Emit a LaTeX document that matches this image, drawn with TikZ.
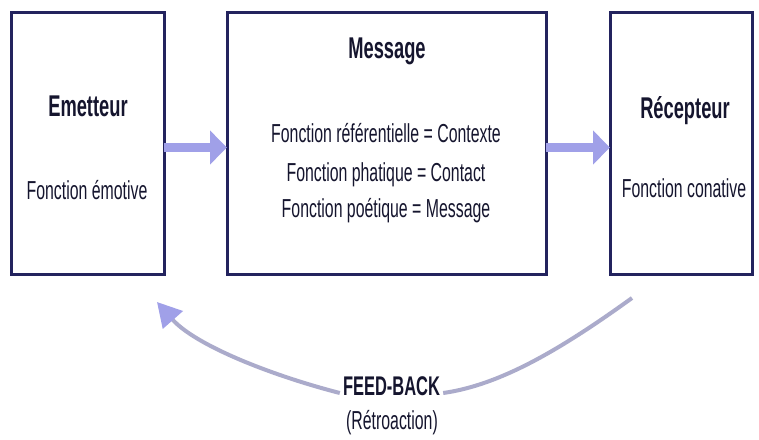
\documentclass[tikz,border=0pt]{standalone}
\usepackage{fontspec}
\setmainfont{Liberation Sans}[FakeStretch=0.61]
\usetikzlibrary{arrows.meta,calc,backgrounds}
\definecolor{navy}{HTML}{23235E}
\definecolor{txt}{HTML}{15152E}
\definecolor{lav}{HTML}{A6A6E2}
\definecolor{arr}{HTML}{A0A0E8}
\definecolor{fbc}{HTML}{ABABCB}
\begin{document}
\begin{tikzpicture}[x=1pt,y=1pt,
 box/.style={draw=navy,line width=3pt,minimum height=262pt,inner sep=0pt,outer sep=0pt},
 shadowbox/.style={draw=lav,line width=3pt},
 ttl/.style={anchor=base,font=\fontsize{30}{30}\selectfont\bfseries,text=txt,inner sep=0pt},
 body/.style={anchor=base,font=\fontsize{26}{26}\selectfont,text=txt,inner sep=0pt},
 flow/.style={draw=arr,line width=9pt,-{Triangle[length=17pt,width=33pt]}},
 fback/.style={draw=fbc,line width=4pt},
]
\useasboundingbox[fill=white] (0,0) rectangle (759,-439);

% boxes
\node[box,minimum width=153pt] (emet) at (87.5,-143) {};
\node[box,minimum width=319pt] (msg) at (386.5,-143) {};
\node[box,minimum width=142pt] (rec) at (681,-143) {};

\begin{scope}[on background layer]
 \foreach \b in {emet,msg,rec}
  \draw[shadowbox] ([shift={(-1.5,-3.5)}]\b.south west) rectangle ([shift={(-1.5,-3.5)}]\b.north east);
\end{scope}

% texts
\node[ttl] (t1) at (88,-116) {Emetteur};
\node[body] (s1) at (87,-199) {Fonction émotive};
\node[ttl] (t2) at (387,-58) {Message};
\node[body] (m1) at (386,-142) {Fonction référentielle = Contexte};
\node[body] (m2) at (386,-181) {Fonction phatique = Contact};
\node[body] (m3) at (386,-217) {Fonction poétique = Message};
\node[ttl] (t3) at (685,-118) {Récepteur};
\node[body] (s3) at (684,-197) {Fonction conative};
\node[ttl,font=\fontsize{27}{27}\selectfont\bfseries] (fb) at (391.5,-395) {FEED-BACK};
\node[body] (rt) at (392,-429) {(Rétroaction)};

% flow arrows
\draw[flow] ([yshift=-4.5pt]emet.east) -- ([yshift=-4.5pt]msg.west);
\draw[flow] ([yshift=-4.5pt]msg.east) -- ([yshift=-4.5pt]rec.west);

% feedback
\coordinate (fbS) at ($(rec.south)+(-49,-24)$);
\coordinate (fbR) at ($(fb.base east)+(3,2)$);
\coordinate (fbL) at ($(fb.base west)+(-3,2)$);
\coordinate (fbE) at ($(emet.south)+(69.5,-28)$);
\draw[fback] (fbS) .. controls (560,-350) and (500,-385) .. (fbR);
\draw[fback,-{Triangle[length=24pt,width=26pt,fill=arr,color=arr]}] (fbL) .. controls (270,-375) and (195,-345) .. (fbE);
\end{tikzpicture}
\end{document}
